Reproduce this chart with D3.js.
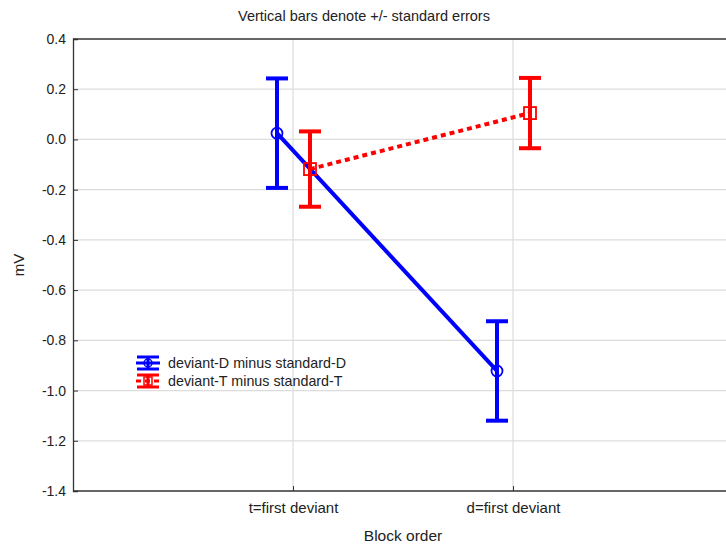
<!DOCTYPE html>
<html>
<head>
<meta charset="utf-8">
<script src="https://cdn.jsdelivr.net/npm/d3@7"></script>
<style>
  html, body { margin: 0; padding: 0; background: #fff; }
  svg { display: block; font-family: "Liberation Sans", Arial, sans-serif; }
</style>
</head>
<body>
<svg id="chart" width="726" height="546"></svg>
<script>
// Block-order conditions along the x axis
const categories = ["t=first deviant", "d=first deviant"];

// Difference waves (mV) with standard errors
const seriesNames = ["deviant-D minus standard-D", "deviant-T minus standard-T"];
const deviantDMean = [0.025, -0.922];
const deviantDSE   = [0.218, 0.198];
const deviantTMean = [-0.118, 0.105];
const deviantTSE   = [0.150, 0.140];

const yTicks = [0.4, 0.2, 0.0, -0.2, -0.4, -0.6, -0.8, -1.0, -1.2, -1.4];

const svg = d3.select("#chart");
const margin = { left: 73, top: 39, bottom: 491 };

// Categories sit at 1/4 and 3/4 of a domain that runs past the window's right edge
const x = d3.scalePoint().domain(categories).range([293, 513]).padding(0);
const catStep = x(categories[1]) - x(categories[0]);
const xLeft = margin.left, xRight = x(categories[1]) + catStep;

const y = d3.scaleLinear().domain([-1.4, 0.4]).range([margin.bottom, margin.top]);

// Plain hyphen-minus for negative tick values
const fmt = d => d3.format(".1f")(d).replace("\u2212", "-");

// Grid lines
const grid = svg.append("g");
grid.selectAll("line.h").data(yTicks.slice(1, -1)).enter().append("line")
  .attr("x1", xLeft).attr("x2", xRight)
  .attr("y1", d => y(d)).attr("y2", d => y(d))
  .attr("stroke", "#dcdcdc").attr("stroke-width", 1.2);
grid.selectAll("line.v").data(categories).enter().append("line")
  .attr("x1", d => x(d)).attr("x2", d => x(d))
  .attr("y1", margin.top).attr("y2", margin.bottom)
  .attr("stroke", "#dcdcdc").attr("stroke-width", 1.2);

// Y axis with inward ticks
const yAxis = d3.axisLeft(y).tickValues(yTicks).tickFormat(fmt).tickSize(-5).tickPadding(7);
const gy = svg.append("g").attr("transform", `translate(${xLeft},0)`).call(yAxis);
gy.select(".domain").attr("stroke", "#333").attr("stroke-width", 1.3);
gy.selectAll(".tick line").attr("stroke", "#333");
gy.selectAll(".tick text").attr("font-size", 14).attr("fill", "#222")
  .attr("font-family", "Liberation Sans, Arial, sans-serif");

// X axis with inward ticks
const xAxis = d3.axisBottom(x).tickSize(-5).tickPadding(11);
const gx = svg.append("g").attr("transform", `translate(0,${margin.bottom})`).call(xAxis);
gx.select(".domain").attr("d", `M${xLeft},0H${xRight}`).attr("stroke", "#333").attr("stroke-width", 1.3);
gx.selectAll(".tick line").attr("stroke", "#333");
gx.selectAll(".tick text").attr("font-size", 15).attr("fill", "#222")
  .attr("font-family", "Liberation Sans, Arial, sans-serif");

// Top frame
svg.append("line").attr("x1", xLeft).attr("x2", xRight)
  .attr("y1", margin.top).attr("y2", margin.top)
  .attr("stroke", "#333").attr("stroke-width", 1.3);

// Titles
svg.append("text").attr("x", 364).attr("y", 21).attr("text-anchor", "middle")
  .attr("font-size", 14.5).attr("fill", "#222").text("Vertical bars denote +/- standard errors");
svg.append("text").attr("transform", "translate(24,265) rotate(-90)").attr("text-anchor", "middle")
  .attr("font-size", 15).attr("fill", "#222").text("mV");
svg.append("text").attr("x", 403).attr("y", 541).attr("text-anchor", "middle")
  .attr("font-size", 15.5).attr("fill", "#222").text("Block order");

// Series
const series = [
  { name: seriesNames[0], mean: deviantDMean, se: deviantDSE, color: "#0000ff", offset: -16, dash: null, marker: "circle" },
  { name: seriesNames[1], mean: deviantTMean, se: deviantTSE, color: "#ff0000", offset: 17, dash: "5,4", marker: "square" }
];

const line = d3.line().x(d => d.px).y(d => y(d.v));

series.forEach(s => {
  const pts = categories.map((c, i) => ({ px: x(c) + s.offset, v: s.mean[i], se: s.se[i] }));
  const g = svg.append("g");
  // Error bars
  pts.forEach(p => {
    g.append("line").attr("x1", p.px).attr("x2", p.px)
      .attr("y1", y(p.v + p.se)).attr("y2", y(p.v - p.se))
      .attr("stroke", s.color).attr("stroke-width", 4);
    [p.v + p.se, p.v - p.se].forEach(v => {
      g.append("line").attr("x1", p.px - 11).attr("x2", p.px + 11)
        .attr("y1", y(v)).attr("y2", y(v))
        .attr("stroke", s.color).attr("stroke-width", 4);
    });
  });
  // Connecting line
  g.append("path").datum(pts).attr("d", line).attr("fill", "none")
    .attr("stroke", s.color).attr("stroke-width", 4)
    .attr("stroke-dasharray", s.dash);
  // Markers
  pts.forEach(p => {
    if (s.marker === "circle") {
      g.append("circle").attr("cx", p.px).attr("cy", y(p.v)).attr("r", 5.5)
        .attr("fill", "none").attr("stroke", s.color).attr("stroke-width", 1.8);
    } else {
      g.append("rect").attr("x", p.px - 6).attr("y", y(p.v) - 6).attr("width", 12).attr("height", 12)
        .attr("fill", "none").attr("stroke", s.color).attr("stroke-width", 1.8);
    }
  });
});

// Legend
const legend = svg.append("g");
series.forEach((s, i) => {
  const ly = 363 + i * 18;
  const lg = legend.append("g");
  lg.append("line").attr("x1", 136).attr("x2", 160).attr("y1", ly).attr("y2", ly)
    .attr("stroke", s.color).attr("stroke-width", 3).attr("stroke-dasharray", s.dash);
  lg.append("line").attr("x1", 148).attr("x2", 148).attr("y1", ly - 6).attr("y2", ly + 6)
    .attr("stroke", s.color).attr("stroke-width", 3);
  [ly - 6, ly + 6].forEach(cy => lg.append("line").attr("x1", 137).attr("x2", 159)
    .attr("y1", cy).attr("y2", cy).attr("stroke", s.color).attr("stroke-width", 3));
  if (s.marker === "circle") {
    lg.append("circle").attr("cx", 148).attr("cy", ly).attr("r", 4)
      .attr("fill", "none").attr("stroke", s.color).attr("stroke-width", 1.5);
  } else {
    lg.append("rect").attr("x", 144).attr("y", ly - 4).attr("width", 8).attr("height", 8)
      .attr("fill", "none").attr("stroke", s.color).attr("stroke-width", 1.5);
  }
  lg.append("text").attr("x", 168).attr("y", ly + 5).attr("font-size", 14.3).attr("fill", "#222")
    .text(s.name);
});
</script>
</body>
</html>
